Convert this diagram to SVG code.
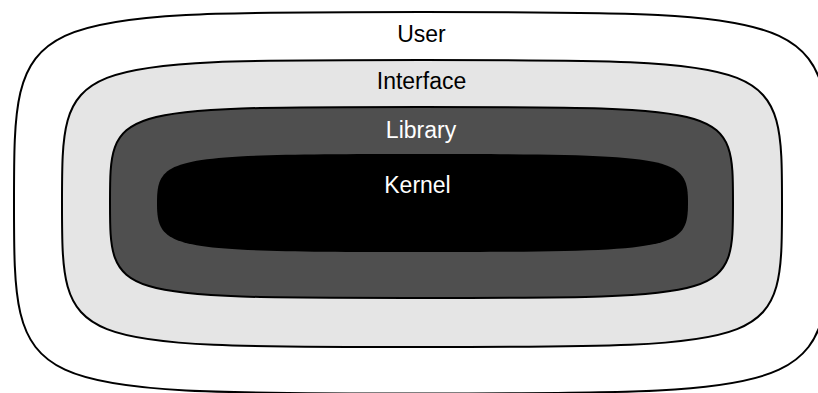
<svg xmlns="http://www.w3.org/2000/svg" width="818" height="393" viewBox="0 0 818 393">
<style>
.layer{stroke:#000;stroke-width:2}
.lbl{font-family:"Liberation Sans",Arial,sans-serif;font-size:23px;text-anchor:middle}
</style>
<rect width="818" height="393" fill="#fff"/>
<g id="user">
<path class="layer" fill="#fff" d="M14,203 C14,12 14,12 422,12 C830,12 830,12 830,203 C830,393.5 830,393.5 422,393.5 C14,393.5 14,393.5 14,203 Z"/>
<text class="lbl" x="421.5" y="42" fill="#000">User</text>
</g>
<g id="interface">
<path class="layer" fill="#e5e5e5" d="M62,203.5 C62,60 62,60 422,60 C782,60 782,60 782,203.5 C782,347 782,347 422,347 C62,347 62,347 62,203.5 Z"/>
<text class="lbl" x="421.5" y="89" fill="#000">Interface</text>
</g>
<g id="library">
<path class="layer" fill="#4f4f4f" d="M110,202.5 C110,107 110,107 421.5,107 C733,107 733,107 733,202.5 C733,298 733,298 421.5,298 C110,298 110,298 110,202.5 Z"/>
<text class="lbl" x="421" y="138" fill="#fff">Library</text>
</g>
<g id="kernel">
<path fill="#000" d="M157,203 C157,156.5 170.3,154 422.5,154 C674.7,154 688,156.5 688,203 C688,249.5 674.7,252 422.5,252 C170.3,252 157,249.5 157,203 Z"/>
<text class="lbl" x="417.5" y="193" fill="#fff">Kernel</text>
</g>
<g id="connectors"/>
</svg>
